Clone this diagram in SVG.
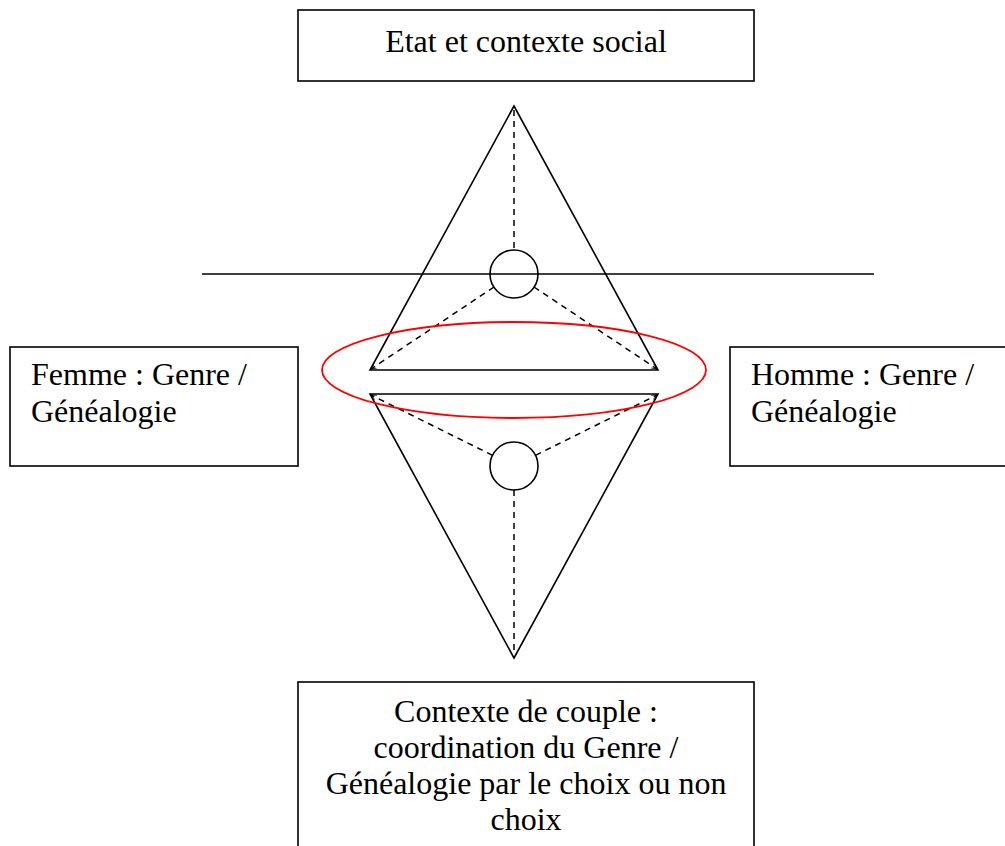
<svg xmlns="http://www.w3.org/2000/svg" width="1005" height="846" viewBox="0 0 1005 846">
<style>
.box{fill:#fff;stroke:#000;stroke-width:1.6}
.t{font-family:"Liberation Serif","Times New Roman",serif;font-size:32px;fill:#000}
.solid{fill:none;stroke:#000;stroke-width:1.6}
.dash{fill:none;stroke:#000;stroke-width:1.5;stroke-dasharray:6 5}
</style>
<defs>
<marker id="ah" viewBox="0 0 10 10" refX="9" refY="5" markerWidth="6" markerHeight="6" orient="auto" markerUnits="userSpaceOnUse">
<path d="M0,1 L9,5 L0,9" fill="none" stroke="#000" stroke-width="1.3"/>
</marker>
</defs>
<rect width="1005" height="846" fill="#fff"/>
<g id="connectors">
<line class="solid" x1="202" y1="274" x2="874" y2="274"/>
<polygon id="upper-triangle" class="solid" points="514,106 370,370 658,370"/>
<polygon id="lower-triangle" class="solid" points="370,394 658,394 514,658"/>
<line class="dash" x1="514" y1="110" x2="514" y2="250"/>
<line class="dash" x1="494" y1="287" x2="371" y2="369" marker-end="url(#ah)"/>
<line class="dash" x1="534" y1="287" x2="657" y2="369" marker-end="url(#ah)"/>
<line class="dash" x1="492.5" y1="455.3" x2="371" y2="395" marker-end="url(#ah)"/>
<line class="dash" x1="535.5" y1="455.3" x2="657" y2="395" marker-end="url(#ah)"/>
<line class="dash" x1="514" y1="490" x2="514" y2="655"/>
</g>
<g id="upper-circle"><circle class="solid" cx="514" cy="274" r="24"/></g>
<g id="lower-circle"><circle class="solid" cx="514" cy="466" r="24"/></g>
<g id="couple-ellipse"><ellipse cx="514" cy="370" rx="192" ry="48" fill="none" stroke="#f00" stroke-width="1.8"/></g>
<g id="etat">
<rect class="box" x="298" y="10" width="456" height="71"/>
<text class="t" x="526" y="52" text-anchor="middle">Etat et contexte social</text>
</g>
<g id="femme">
<rect class="box" x="10" y="347" width="288" height="119"/>
<text class="t" x="31" y="385">Femme : Genre /</text>
<text class="t" x="31" y="422">Généalogie</text>
</g>
<g id="homme">
<rect class="box" x="730" y="347" width="300" height="119"/>
<text class="t" x="751" y="385">Homme : Genre /</text>
<text class="t" x="751" y="422">Généalogie</text>
</g>
<g id="couple">
<rect class="box" x="298" y="682" width="456" height="200"/>
<text class="t" x="526" y="722" text-anchor="middle">Contexte de couple :</text>
<text class="t" x="526" y="758" text-anchor="middle">coordination du Genre /</text>
<text class="t" x="526" y="794" text-anchor="middle">Généalogie par le choix ou non</text>
<text class="t" x="526" y="830" text-anchor="middle">choix</text>
</g>
</svg>
